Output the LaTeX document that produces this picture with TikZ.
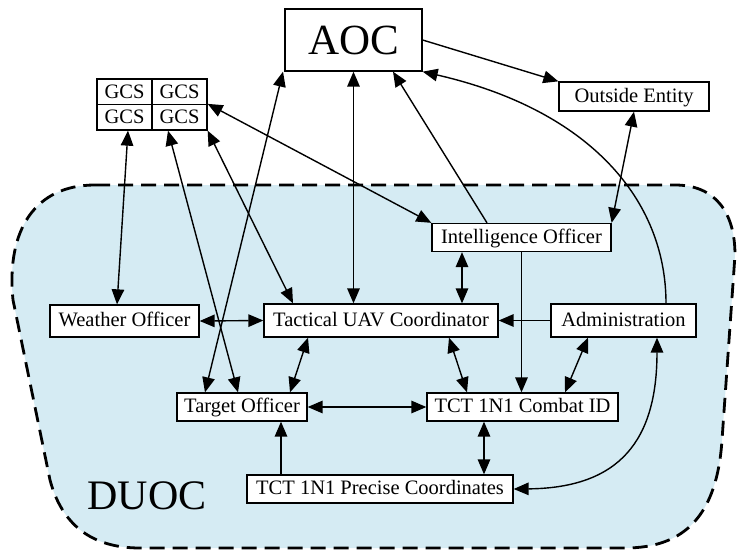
\documentclass[tikz,border=0pt]{standalone}
\usepackage{fontspec}
\setmainfont{Liberation Serif}
\usetikzlibrary{arrows.meta,calc}
\definecolor{duocfill}{RGB}{213,235,243}
\begin{document}
\begin{tikzpicture}[x=1pt,y=-1pt,
  >={Triangle[length=15pt,width=12.5pt]},
  box/.style={draw, line width=1.3pt, fill=white, inner sep=0pt},
  lbl/.style={box, font=\fontsize{20.5}{22}\selectfont, text height=15pt, text depth=4pt},
  gcs/.style={box, minimum width=55pt, minimum height=25.5pt, font=\fontsize{20.5}{22}\selectfont, text height=14pt, text depth=1pt},
  one/.style={line width=1.4pt, ->},
  two/.style={line width=1.4pt, <->}]
\useasboundingbox (0,0) rectangle (737,552);
% DUOC region
\draw[fill=duocfill, line width=2.8pt, dash pattern=on 15pt off 8pt]
  (95,185) -- (675,185) .. controls (715,185) and (735,212) .. (735,255)
  -- (722,440) .. controls (717,515) and (685,548) .. (625,548)
  -- (140,548) .. controls (92,548) and (62,525) .. (50,480)
  -- (13,300) .. controls (6,230) and (35,185) .. (95,185) -- cycle;
\node[font=\fontsize{42}{44}\selectfont, inner sep=0pt] (duoc) at (147,496) {DUOC};
% nodes
\node[box, minimum width=137pt, minimum height=62pt, font=\fontsize{43}{45}\selectfont] (aoc) at (353.5,40) {AOC};
\node[gcs] (g1) at (124.5,91.75) {GCS};
\node[gcs] (g2) at (179.5,91.75) {GCS};
\node[gcs] (g3) at (124.5,117.25) {GCS};
\node[gcs] (g4) at (179.5,117.25) {GCS};
\node[lbl, minimum width=150pt, minimum height=29pt] (out) at (634,96.5) {Outside Entity};
\node[lbl, minimum width=179pt, minimum height=28pt] (intel) at (521.5,237.5) {Intelligence Officer};
\node[lbl, minimum width=149pt, minimum height=32pt] (weather) at (124.5,321) {Weather Officer};
\node[lbl, minimum width=234pt, minimum height=33pt] (tac) at (381,320.5) {Tactical UAV Coordinator};
\node[lbl, minimum width=145pt, minimum height=33pt] (admin) at (623.5,320.5) {Administration};
\node[lbl, minimum width=130pt, minimum height=28pt] (target) at (242,407) {Target Officer};
\node[lbl, minimum width=191pt, minimum height=28pt] (combat) at (522.5,407) {TCT 1N1 Combat ID};
\node[lbl, minimum width=266pt, minimum height=28pt] (precise) at (380,489) {TCT 1N1 Precise Coordinates};
% helper coordinates
\coordinate (ia) at ([xshift=-59.5pt]intel.south);
\coordinate (ca) at ([xshift=-38.5pt]combat.south);
\coordinate (pa) at ([xshift=-99pt]precise.north);
% connectors
\draw[one] (aoc.east) -- (out.north west);
\draw[one] ([xshift=42.5pt]admin.north) .. controls (666,200) and (590,110) .. (aoc.south east);
\draw[two] (out.south) -- (intel.north east);
\draw[one] ([xshift=-34.5pt]intel.north) -- ([xshift=39.5pt]aoc.south);
\draw[two] (intel.north west) -- (g4.north east);
\draw[two] (aoc.south) -- (aoc.south |- tac.north);
\draw[two] ([xshift=-70.5pt]aoc.south) -- ([xshift=-37pt]target.north);
\draw[two] ([xshift=3.5pt]g3.south) -- ([xshift=-7.5pt]weather.north);
\draw[two] ([xshift=-11.5pt]g4.south) -- ([xshift=-4pt]target.north);
\draw[two] (g4.south east) -- ([xshift=-88pt]tac.north);
\draw[two] (weather.east) -- (tac.west);
\draw[two] ([xshift=-73pt]tac.south) -- ([xshift=48pt]target.north);
\draw[two] (ia) -- (ia |- tac.north);
\draw[one] (intel.south) -- (intel.south |- combat.north);
\draw[one] (admin.west) -- (tac.east);
\draw[two] ([xshift=68pt]tac.south) -- ([xshift=-55.5pt]combat.north);
\draw[two] ([xshift=-35.5pt]admin.south) -- ([xshift=42.5pt]combat.north);
\draw[two] (target.east) -- (combat.west);
\draw[two] (ca) -- (ca |- precise.north);
\draw[one] (pa) -- (pa |- target.south);
\draw[two] ([xshift=33.5pt]admin.south) .. controls (657,440) and (620,488) .. (precise.east);
\end{tikzpicture}
\end{document}
